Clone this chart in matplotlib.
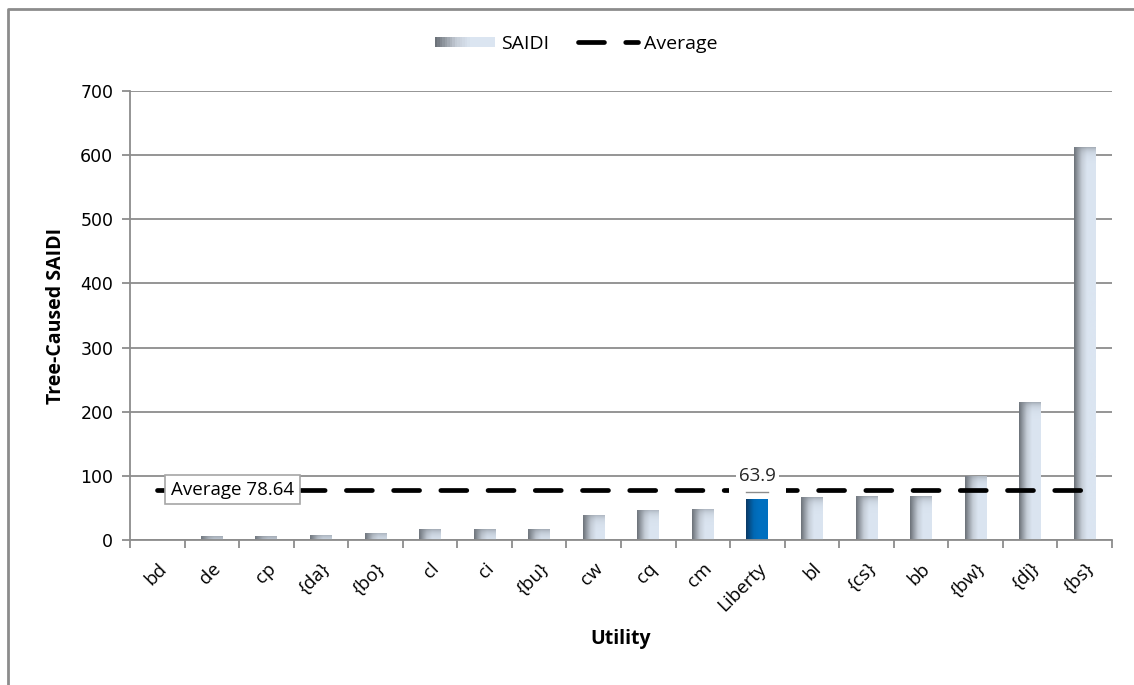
import numpy as np
import matplotlib.pyplot as plt
from matplotlib.colors import to_rgb
from matplotlib.legend_handler import HandlerBase
from matplotlib.lines import Line2D
from matplotlib.patches import Rectangle

plt.rcParams['font.family'] = ['Open Sans', 'DejaVu Sans']

utilities = ['bd', 'de', 'cp', '{da}', '{bo}', 'cl', 'ci', '{bu}', 'cw', 'cq',
             'cm', 'Liberty', 'bl', '{cs}', 'bb', '{bw}', '{dj}', '{bs}']
saidi = [0.5, 5.7, 5.7, 7.8, 11.4, 16.6, 16.6, 16.6, 39.4, 47.4,
         49.0, 63.9, 66.4, 68.0, 68.0, 100.0, 215.0, 612.0]
average = 78.64
highlight = 'Liberty'

fig = plt.figure(figsize=(11.34, 6.85), dpi=100)
ax = fig.add_axes([0.1146, 0.2117, 0.866, 0.6555])

# left/top frame line around the chart
fig.add_artist(Line2D([8 / 1134, 8 / 1134, 1.0], [0.0, 1 - 9 / 685, 1 - 9 / 685],
                      transform=fig.transFigure, color='#8c8c8c', lw=2))

x = np.arange(len(utilities))
width = 0.4

grey_stops = [(0.0, '#6c7279'), (0.35, '#c4ccd6'), (0.6, '#dbe5f1'), (1.0, '#dbe5f1')]
blue_stops = [(0.0, '#0a3a66'), (0.35, '#0068b4'), (0.6, '#0070c0'), (1.0, '#0070c0')]


def ramp(stops, n):
    pos = [s[0] for s in stops]
    cols = np.array([to_rgb(s[1]) for s in stops])
    t = np.linspace(0, 1, n)
    return np.stack([np.interp(t, pos, cols[:, k]) for k in range(3)], axis=1)


px_per_unit = 0.6555 * 685 / 700
for xi, val, name in zip(x, saidi, utilities):
    bar = ax.bar(xi, val, width, color='none', edgecolor='none', zorder=2)[0]
    stops = blue_stops if name == highlight else grey_stops
    row = ramp(stops, 40)
    ny = max(2, int(val * px_per_unit))
    img = np.repeat(row[None, :, :], ny, axis=0)
    if name != highlight:
        # darker cap at the top of each bar
        depth = np.arange(ny)[:, None, None]
        k = np.exp(-depth / 4.0) * 0.55
        img = img * (1 - k) + np.array(to_rgb('#7d848c')) * k
    im = ax.imshow(img, extent=[xi - width / 2, xi + width / 2, 0, val],
                   aspect='auto', origin='upper', zorder=2, interpolation='bilinear')
    im.set_clip_path(bar)

ax.set_xlim(-0.5, len(utilities) - 0.5)
ax.set_ylim(0, 700)

ax.plot(x, [average] * len(x), color='black', lw=3.4, dashes=(5.5, 4.5),
        dash_capstyle='round', zorder=3)

ax.text(0.25, average, 'Average 78.64', fontsize=13.5, va='center', ha='left', zorder=5,
        bbox=dict(boxstyle='square,pad=0.3', facecolor='white', edgecolor='#a6a6a6', lw=1.2))

li = utilities.index(highlight)
ax.text(li, 100, '{:.1f}'.format(saidi[li]), fontsize=13.5, ha='center', va='center',
        color='#262626', zorder=5,
        bbox=dict(boxstyle='square,pad=0.15', facecolor='white', edgecolor='none'))
ax.add_patch(Rectangle((li - 0.52, 70), 1.04, 22, facecolor='white', edgecolor='none', zorder=4))
ax.plot([li - 0.2, li + 0.2], [75, 75], color='#8c8c8c', lw=1, zorder=5)

ax.set_yticks(range(0, 701, 100))
ax.yaxis.grid(True, color='#8c8c8c', lw=1.3)
ax.set_axisbelow(True)
ax.set_xticks(x)
ax.set_xticklabels(utilities, rotation=45, ha='right', rotation_mode='anchor', fontsize=13.5)
ax.set_xticks(np.arange(-0.5, len(utilities)), minor=True)
ax.tick_params(axis='x', which='major', length=0, pad=14)
ax.tick_params(axis='x', which='minor', length=6, color='#8c8c8c', width=1.3)
ax.tick_params(axis='y', length=6, color='#8c8c8c', width=1.3, labelsize=12.5, pad=6)
for lab in ax.get_yticklabels():
    lab.set_fontfamily('DejaVu Sans')

for side in ['top', 'right']:
    ax.spines[side].set_visible(False)
for side in ['left', 'bottom']:
    ax.spines[side].set_color('#8c8c8c')
    ax.spines[side].set_linewidth(1.3)

ax.set_ylabel('Tree-Caused SAIDI', fontsize=14, fontweight='bold', labelpad=10)
ax.set_xlabel('Utility', fontsize=14, fontweight='bold', labelpad=10)


class GradientHandler(HandlerBase):
    def create_artists(self, legend, orig_handle, xdescent, ydescent, width, height,
                       fontsize, trans):
        cols = ramp(grey_stops, 24)
        w = width / len(cols)
        return [Rectangle((-xdescent + i * w, -ydescent + height * 0.1), w * 1.05, height * 0.8,
                          facecolor=c, edgecolor='none', transform=trans)
                for i, c in enumerate(cols)]


saidi_handle = Rectangle((0, 0), 1, 1)
avg_handle = Line2D([], [], color='black', lw=3.4, dashes=(5.5, 4.5), dash_capstyle='round')
fig.legend([saidi_handle, avg_handle], ['SAIDI', 'Average'], loc='center',
           bbox_to_anchor=(0.508, 0.936), ncol=2, frameon=False, fontsize=14,
           handlelength=3.1, columnspacing=1.5, handletextpad=0.3,
           handler_map={Rectangle: GradientHandler()})

fig.savefig('out.png', dpi=100, facecolor='white')
